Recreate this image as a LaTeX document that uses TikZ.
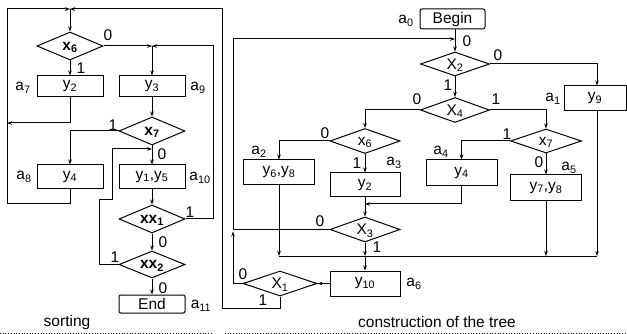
\documentclass[tikz,border=0pt]{standalone}
\usepackage{fontspec}
\setmainfont{Liberation Sans}
\usetikzlibrary{shapes.geometric,arrows.meta}
\newcommand\sbs[1]{\textsubscript{#1}}
\begin{document}
\begin{tikzpicture}[x=1pt,y=-1pt,line width=1pt,
  every node/.style={font=\fontsize{15.5}{18}\selectfont},
  box/.style={draw,rectangle,inner sep=0pt},
  rbox/.style={draw,rectangle,inner sep=0pt,rounded corners=2pt},
  dia/.style={draw,diamond,inner sep=0pt,aspect=2.6,text depth=0pt},
  arr/.style={-{Stealth[length=5pt,width=3.5pt]}},
  lab/.style={inner sep=0pt},
  sep/.style={dotted,line width=0.7pt}]
\useasboundingbox (0,0) rectangle (627,334);

% ---------- sorting ----------
\node[dia,minimum width=66pt,minimum height=28pt] (x6L) at (70,46) {\textbf{x\sbs{6}}};
\node[box,minimum width=66pt,minimum height=21pt] (y2L) at (70,86.5) {y\sbs{2}};
\node[box,minimum width=66pt,minimum height=21pt] (y3L) at (152,86.5) {y\sbs{3}};
\node[dia,minimum width=66pt,minimum height=28pt] (x7L) at (152,131) {\textbf{x\sbs{7}}};
\node[box,minimum width=66pt,minimum height=24pt] (y4L) at (70,177) {y\sbs{4}};
\node[box,minimum width=66pt,minimum height=24pt] (y15L) at (152,177) {y\sbs{1},y\sbs{5}};
\node[dia,minimum width=66pt,minimum height=28pt] (xx1) at (152,219) {\textbf{xx\sbs{1}}};
\node[dia,minimum width=66pt,minimum height=27pt] (xx2) at (152,264.5) {\textbf{xx\sbs{2}}};
\node[rbox,minimum width=66pt,minimum height=18pt] (End) at (152,304) {End};

\coordinate (J0) at (70,9);
\coordinate (J1) at (152,46);
\coordinate (J2) at (152,149);

\draw[arr] (J0) -- (x6L.north);
\draw[arr] (x6L.east) -- (J1);
\draw[arr] (xx1.east) -- (213,219) |- (J1);
\draw[arr] (J1) -- (y3L.north);
\draw[arr] (x6L.south) -- (y2L.north);
\draw[arr] (y2L.south) |- (7,123);
\draw[arr] (y4L.south) |- (7,204) -- (7,9) -- (J0);
\draw[arr] (y3L.south) -- (x7L.north);
\draw[arr] (x7L.west) -| (y4L.north);
\draw[arr] (x7L.south) -- (y15L.north);
\draw[arr] (xx2.west) -| (99,200) -| (112,149) -- (J2);
\draw[arr] (y15L.south) -- (xx1.north);
\draw[arr] (xx1.south) -- (xx2.north);
\draw[arr] (xx2.south) -- (End.north);

\node[lab] (t1) at (108,35) {0};
\node[lab] (t2) at (81,68) {1};
\node[lab] (t3) at (23,88) {a\sbs{7}};
\node[lab] (t4) at (198,88) {a\sbs{9}};
\node[lab] (t5) at (113,125) {1};
\node[lab] (t6) at (162,154) {0};
\node[lab] (t7) at (24,177) {a\sbs{8}};
\node[lab] (t8) at (200,178) {a\sbs{10}};
\node[lab] (t9) at (190,212) {1};
\node[lab] (t10) at (163,242) {0};
\node[lab] (t11) at (115,257) {1};
\node[lab] (t12) at (163,288) {0};
\node[lab] (t13) at (201,306) {a\sbs{11}};
\node[lab] (t14) at (67,322) {sorting};
\draw[sep] (0,333) -- (213,333);

% ---------- construction of the tree ----------
\node[rbox,minimum width=65pt,minimum height=20pt] (Begin) at (452.5,19) {Begin};
\node[dia,minimum width=69pt,minimum height=24pt] (X2) at (455,64) {X\sbs{2}};
\node[box,minimum width=62pt,minimum height=25pt] (y9) at (595,98.5) {y\sbs{9}};
\node[dia,minimum width=69pt,minimum height=25pt] (X4) at (455,110) {X\sbs{4}};
\node[dia,minimum width=70pt,minimum height=25pt] (x6R) at (365,141) {x\sbs{6}};
\node[dia,minimum width=71pt,minimum height=24pt] (x7R) at (546,141) {x\sbs{7}};
\node[box,minimum width=71pt,minimum height=25pt] (y68) at (279,172.5) {y\sbs{6},y\sbs{8}};
\node[box,minimum width=70pt,minimum height=24pt] (y2R) at (365,185) {y\sbs{2}};
\node[box,minimum width=71pt,minimum height=26pt] (y4R) at (461.5,173) {y\sbs{4}};
\node[box,minimum width=71pt,minimum height=26pt] (y78) at (546,188) {y\sbs{7},y\sbs{8}};
\node[dia,minimum width=70pt,minimum height=25pt] (X3) at (365,229.5) {X\sbs{3}};
\node[box,minimum width=70pt,minimum height=25pt] (y10) at (365,283.5) {y\sbs{10}};
\node[dia,minimum width=74pt,minimum height=25pt] (X1) at (280,283.5) {X\sbs{1}};

\coordinate (J3) at (455,39);
\coordinate (J4) at (233,229.5);
\coordinate (J5) at (365,204);
\coordinate (J6) at (365,256);
\coordinate (B1) at (279,256);
\coordinate (B2) at (546,256);
\coordinate (B3) at (597,256);

\draw[arr] (Begin.south -| X2.north) -- (X2.north);
\draw[arr] (J4) |- (J3);
\draw (X3.west) -- (J4);
\draw[arr] (X1.west) -| (233,231.5);
\draw[arr] (X2.east) -| ([xshift=2pt]y9.north);
\draw[arr] (X2.south) -- (X4.north);
\draw[arr] (X4.east) -| (x7R.north);
\draw[arr] (X4.west) -| (x6R.north);
\draw[arr] (x6R.west) -| (y68.north);
\draw[arr] (x6R.south) -- (y2R.north);
\draw[arr] (x7R.west) -| (y4R.north);
\draw[arr] (x7R.south) -- (y78.north);
\draw[arr] (y2R.south) -- (X3.north);
\draw[arr] (y4R.south) |- (J5);
\draw[arr] (X3.south) -- (J6);
\draw (B1) -- (B3);
\draw[arr] (y68.south) -- (B1);
\draw[arr] (y78.south) -- (B2);
\draw[arr] ([xshift=2pt]y9.south) -- (B3);
\draw[arr] (J6) -- (y10.north);
\draw[arr] (y10.west) -- (X1.east);
\draw[arr] (X1.south) |- (222,308) -- (222,9) -- (J0);

\node[lab] (r1) at (406,21) {a\sbs{0}};
\node[lab] (r2) at (467,41) {0};
\node[lab] (r3) at (498,55) {0};
\node[lab] (r4) at (448,85) {1};
\node[lab] (r5) at (553,99) {a\sbs{1}};
\node[lab] (r6) at (417,99) {0};
\node[lab] (r7) at (496,99) {1};
\node[lab] (r8) at (325,133) {0};
\node[lab] (r9) at (507,134) {1};
\node[lab] (r10) at (259,152) {a\sbs{2}};
\node[lab] (r11) at (441,152) {a\sbs{4}};
\node[lab] (r12) at (357,163) {1};
\node[lab] (r13) at (394,163) {a\sbs{3}};
\node[lab] (r14) at (539,162) {0};
\node[lab] (r15) at (569,168) {a\sbs{5}};
\node[lab] (r16) at (320,221) {0};
\node[lab] (r17) at (377,247) {1};
\node[lab] (r18) at (243,274) {0};
\node[lab] (r19) at (414,284) {a\sbs{6}};
\node[lab] (r20) at (263,300) {1};
\node[lab] (r21) at (437,322) {construction of the tree};
\draw[sep] (225,333) -- (627,333);
\end{tikzpicture}
\end{document}
